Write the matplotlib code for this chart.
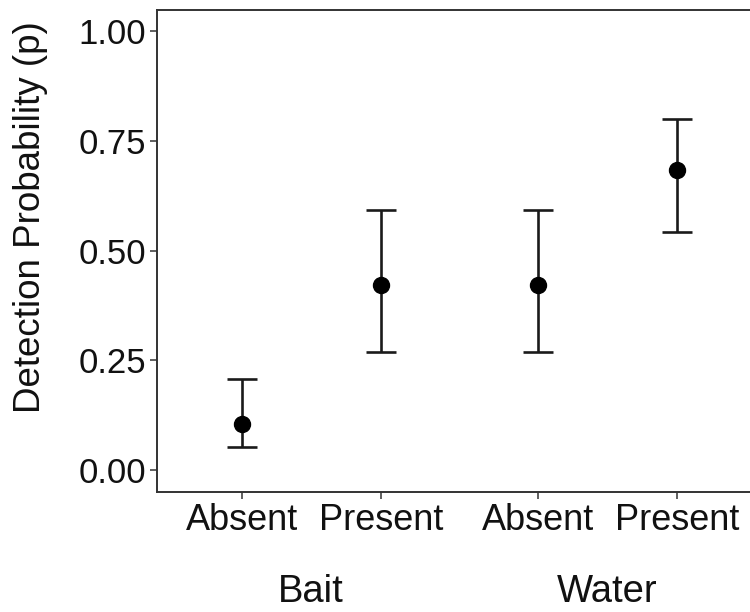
import matplotlib
matplotlib.use("Agg")
import matplotlib.pyplot as plt
import matplotlib.transforms as mtransforms

plt.rcParams['font.family'] = ['Liberation Sans', 'DejaVu Sans']

groups = ["Bait", "Water"]
levels = ["Absent", "Present"]
estimate = [0.105, 0.422, 0.422, 0.685]
lower = [0.053, 0.269, 0.269, 0.543]
upper = [0.208, 0.592, 0.592, 0.801]
yticks = [0.00, 0.25, 0.50, 0.75, 1.00]
ytick_labels = ["0.00", "0.25", "0.50", "0.75", "1.00"]

group_gap = 0.13
positions = []
labels = []
for g, grp in enumerate(groups):
    for l, lev in enumerate(levels):
        positions.append(1 + g * (len(levels) + group_gap) + l)
        labels.append(lev)

fig = plt.figure(figsize=(7.5, 6.12), dpi=100)
ax = fig.add_axes([157 / 750, 120 / 612, 1 - 157 / 750, (492 - 9.5) / 612])

yerr = [[e - lo for e, lo in zip(estimate, lower)],
        [up - e for e, up in zip(estimate, upper)]]
ax.errorbar(positions, estimate, yerr=yerr, fmt='o', color='black',
            ecolor='#1a1a1a', elinewidth=1.9, capsize=10.5, capthick=1.9,
            markersize=11.5, zorder=3)

ax.set_xlim(0.391, 4.655)
ax.set_ylim(-0.05, 1.05)
ax.set_yticks(yticks)
ax.set_yticklabels(ytick_labels)
ax.set_xticks(positions)
ax.set_xticklabels(labels)

for s in ['left', 'bottom', 'top']:
    ax.spines[s].set_color('#333333')
    ax.spines[s].set_linewidth(1.4)
ax.spines['right'].set_visible(False)

ax.tick_params(axis='both', colors='#444444', length=5, width=1.2)
ax.tick_params(axis='y', labelsize=25, labelcolor='#111111', pad=3)
ax.tick_params(axis='x', labelsize=26, labelcolor='#111111', pad=3)

trans = mtransforms.blended_transform_factory(ax.transData, fig.transFigure)
for g, grp in enumerate(groups):
    xs = positions[g * len(levels):(g + 1) * len(levels)]
    ax.text(sum(xs) / len(xs), 1 - 592 / 612, grp, transform=trans,
            ha='center', va='center', fontsize=27.5, color='#111111')

fig.text(31 / 750, 1 - 217 / 612, "Detection Probability (p)", rotation=90,
         ha='center', va='center', fontsize=26.5, color='#111111')

fig.savefig("out.png", dpi=100, facecolor='white')
